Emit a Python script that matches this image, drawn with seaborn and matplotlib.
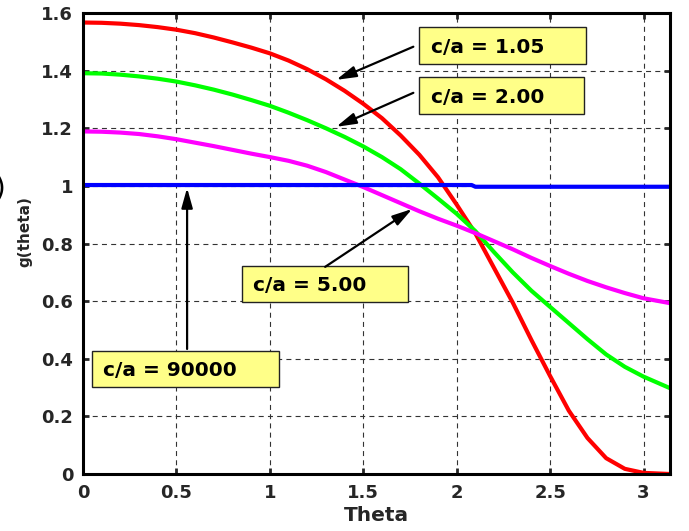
import numpy as np
import pandas as pd
import seaborn as sns
import matplotlib.pyplot as plt
from matplotlib.patches import Rectangle


# DATA

theta_105 = [0.0, 0.1, 0.2, 0.3, 0.4, 0.5, 0.6, 0.7, 0.8, 0.9, 1.0, 1.1, 1.2,
             1.3, 1.4, 1.5, 1.6, 1.7, 1.8, 1.9, 2.0, 2.1, 2.2, 2.3, 2.4, 2.5,
             2.6, 2.7, 2.8, 2.9, 3.0, np.pi]
g_105 = [1.567, 1.566, 1.563, 1.558, 1.551, 1.542, 1.530, 1.515, 1.498, 1.480,
         1.460, 1.435, 1.405, 1.370, 1.330, 1.285, 1.235, 1.175, 1.108, 1.030,
         0.935, 0.835, 0.715, 0.595, 0.465, 0.340, 0.220, 0.125, 0.055, 0.018,
         0.004, 0.0]

theta_200 = [0.0, 0.1, 0.2, 0.3, 0.4, 0.5, 0.6, 0.7, 0.8, 0.9, 1.0, 1.1, 1.2,
             1.3, 1.4, 1.5, 1.6, 1.7, 1.8, 1.9, 2.0, 2.1, 2.2, 2.3, 2.4, 2.5,
             2.6, 2.7, 2.8, 2.9, 3.0, np.pi]
g_200 = [1.391, 1.390, 1.386, 1.380, 1.372, 1.362, 1.349, 1.334, 1.317, 1.298,
         1.278, 1.254, 1.228, 1.200, 1.170, 1.137, 1.100, 1.058, 1.008, 0.956,
         0.903, 0.843, 0.770, 0.700, 0.636, 0.580, 0.524, 0.468, 0.415, 0.372,
         0.338, 0.298]

theta_500 = [0.0, 0.1, 0.2, 0.3, 0.4, 0.5, 0.6, 0.7, 0.8, 0.9, 1.0, 1.1, 1.2,
             1.3, 1.4, 1.5, 1.6, 1.7, 1.8, 1.9, 2.0, 2.1, 2.2, 2.3, 2.4, 2.5,
             2.6, 2.7, 2.8, 2.9, 3.0, np.pi]
g_500 = [1.189, 1.188, 1.185, 1.180, 1.172, 1.162, 1.150, 1.138, 1.125, 1.112,
         1.100, 1.087, 1.070, 1.048, 1.022, 0.996, 0.968, 0.940, 0.912, 0.886,
         0.862, 0.836, 0.808, 0.780, 0.750, 0.722, 0.695, 0.670, 0.648, 0.628,
         0.610, 0.593]

theta_90000 = [0.0, 2.08, 2.10, np.pi]
g_90000 = [1.003, 1.003, 0.997, 0.997]

series_names = ['c/a = 1.05', 'c/a = 2.00', 'c/a = 5.00', 'c/a = 90000']
series_colors = ['#ff0000', '#00ff00', '#ff00ff', '#0000ff']

x_ticks = [0, 0.5, 1, 1.5, 2, 2.5, 3]
x_tick_labels = ['0', '0.5', '1', '1.5', '2', '2.5', '3']
y_ticks = [0, 0.2, 0.4, 0.6, 0.8, 1.0, 1.2, 1.4, 1.6]
y_tick_labels = ['0', '0.2', '0.4', '0.6', '0.8', '1', '1.2', '1.4', '1.6']

# label boxes (x0, x1, y0, y1), text left edge, arrow tail and tip
label_box = [(1.800, 2.694, 1.424, 1.552), (1.800, 2.683, 1.250, 1.378),
             (0.852, 1.741, 0.597, 0.722), (0.048, 1.050, 0.302, 0.427)]
label_text_x = [1.864, 1.864, 0.911, 0.107]
arrow_tail = [(1.768, 1.483), (1.768, 1.323), (1.296, 0.719), (0.557, 0.434)]
arrow_tip = [(1.355, 1.368), (1.355, 1.205), (1.762, 0.920), (0.557, 0.993)]


def build_frame():
    frames = []
    for name, th, g in zip(series_names,
                           [theta_105, theta_200, theta_500, theta_90000],
                           [g_105, g_200, g_500, g_90000]):
        frames.append(pd.DataFrame({'Theta': th, 'g': g, 'series': name}))
    return pd.concat(frames, ignore_index=True)


# PLOT

sns.set_style('ticks')
plt.rcParams['font.family'] = ['DejaVu Sans']

df = build_frame()

fig = plt.figure(figsize=(6.89, 5.31), dpi=100)
ax = fig.add_axes([0.1205, 0.1073, 0.8519, 0.8682])

sns.lineplot(data=df, x='Theta', y='g', hue='series', hue_order=series_names,
             palette=series_colors, linewidth=3, legend=False, ax=ax,
             estimator=None, sort=True)

ax.set_xlim(0, np.pi)
ax.set_ylim(0, 1.6)
ax.set_xticks(x_ticks)
ax.set_xticklabels(x_tick_labels, fontsize=13, fontweight='bold')
ax.set_yticks(y_ticks)
ax.set_yticklabels(y_tick_labels, fontsize=13, fontweight='bold')
ax.tick_params(direction='in', top=True, right=True, length=4, width=2, pad=7)

ax.grid(True, color='#333333', linewidth=0.8, linestyle=(0, (4.5, 3.8)))
for sp in ax.spines.values():
    sp.set_visible(True)
    sp.set_linewidth(2.2)
    sp.set_color('black')

ax.set_xlabel('Theta', fontsize=14.5, fontweight='bold', labelpad=3)
ax.set_ylabel('g(theta)', fontsize=11, fontweight='bold')
ax.yaxis.set_label_coords(-0.087, 0.527)

# labelled boxes with arrows
for name, box, tx, tail, tip in zip(series_names, label_box, label_text_x,
                                    arrow_tail, arrow_tip):
    x0, x1, y0, y1 = box
    ax.add_patch(Rectangle((x0, y0), x1 - x0, y1 - y0, fc='#ffff88',
                           ec='#222222', lw=1, zorder=5))
    ax.text(tx, (y0 + y1) / 2, name, ha='left', va='center_baseline',
            fontsize=14.5, fontweight='bold', color='black', zorder=6)
    ax.annotate('', xy=tip, xytext=tail, zorder=6,
                arrowprops=dict(arrowstyle='-|>,head_length=1.0,head_width=0.28',
                                color='black', lw=1.6, shrinkA=0, shrinkB=0,
                                mutation_scale=12))

# stray fragment of a clipped label on the far left
fig.text(0.008, 0.645, ')', ha='right', va='center', fontsize=20, color='black')

fig.savefig('out.png', dpi=100)
